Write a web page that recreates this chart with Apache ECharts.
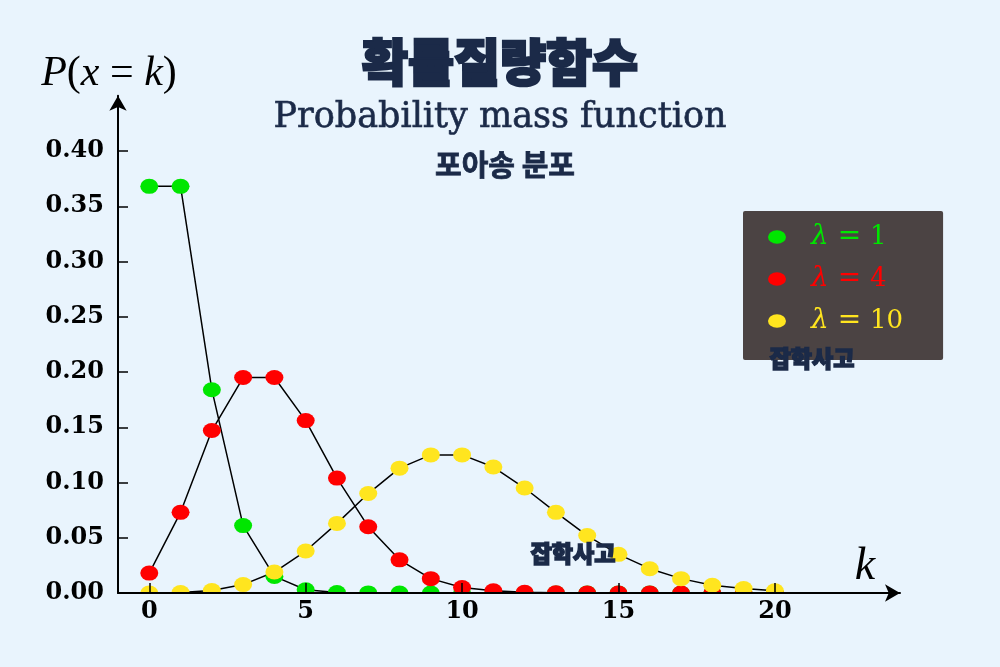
<!DOCTYPE html>
<html>
<head>
<meta charset="utf-8">
<script src="https://cdn.jsdelivr.net/npm/echarts@6/dist/echarts.min.js"></script>
<style>
html,body{margin:0;padding:0;background:#e9f4fd;}
#c{width:1000px;height:667px;}
</style>
</head>
<body>
<div id="c"></div>
<script>
// ---- data ----
const kValues = [0,1,2,3,4,5,6,7,8,9,10,11,12,13,14,15,16,17,18,19,20];
const lambda1 = [0.368,0.368,0.184,0.061,0.015,0.003,0.0005,0.0001,0,0,0,0,0,0,0,0,0,0,0,0,0];
const lambda4 = [0.018,0.073,0.147,0.195,0.195,0.156,0.104,0.060,0.030,0.013,0.005,0.002,0.0006,0.0002,0.00005,0,0,0,0,0,0];
const lambda10 = [0.00005,0.0005,0.0023,0.0076,0.019,0.038,0.063,0.090,0.113,0.125,0.125,0.114,0.095,0.073,0.052,0.035,0.022,0.013,0.007,0.004,0.002];
const xTickValues = [0,5,10,15,20];
const yTickValues = [0,0.05,0.10,0.15,0.20,0.25,0.30,0.35,0.40];
const seriesNames = ['λ = 1','λ = 4','λ = 10'];
const seriesValues = [lambda1, lambda4, lambda10];
const seriesColors = ['#00e600','#ff0000','#ffe51f'];

const BG = '#e9f4fd';
const NAVY = '#1b2a48';
const ELLIPSE = 'path://M0,6A8,6 0 1,1 16,6A8,6 0 1,1 0,6Z';

const chart = echarts.init(document.getElementById('c'), null, {renderer:'canvas'});

const series = seriesValues.map((vals, si) => ({
  name: seriesNames[si],
  type: 'line',
  data: kValues.map((k, i) => [k, vals[i]]),
  symbol: ELLIPSE,
  symbolSize: [18, 15],
  showAllSymbol: true,
  z: 2,
  lineStyle: {color: '#000', width: 1.5},
  itemStyle: {color: seriesColors[si]},
  emphasis: {disabled: true},
  animation: false
}));

const option = {
  backgroundColor: BG,
  animation: false,
  grid: {left: 118, right: 100, top: 95.75, bottom: 74, containLabel: false},
  xAxis: {
    type: 'value', min: -1, max: 24, z: 5,
    axisLine: {show: true, onZero: false, symbol: ['none','arrow'], symbolSize: [13, 15], lineStyle: {color: '#000', width: 2}},
    axisTick: {show: true, inside: true, length: 10, customValues: xTickValues, lineStyle: {color: '#000', width: 1.5}},
    axisLabel: {show: true, customValues: xTickValues, margin: 7, fontFamily: 'DejaVu Serif', fontWeight: 'bold', fontSize: 24, color: '#000'},
    splitLine: {show: false}
  },
  yAxis: {
    type: 'value', min: 0, max: 0.45, z: 5,
    axisLine: {show: true, onZero: false, symbol: ['none','arrow'], symbolSize: [13, 15], lineStyle: {color: '#000', width: 2}},
    axisTick: {show: true, inside: false, length: -10, customValues: yTickValues, lineStyle: {color: '#000', width: 1.5}},
    axisLabel: {show: true, customValues: yTickValues, margin: 14, formatter: v => v.toFixed(2), fontFamily: 'DejaVu Serif', fontWeight: 'bold', fontSize: 24, color: '#000'},
    splitLine: {show: false}
  },
  legend: {
    orient: 'vertical', left: 743, top: 211,
    padding: [12, 40, 25, 25],
    itemGap: 14, itemWidth: 18, itemHeight: 15,
    backgroundColor: '#4b4343', borderRadius: 2,
    icon: ELLIPSE,
    data: seriesNames.map((n, i) => ({name: n, textStyle: {color: seriesColors[i]}})),
    formatter: n => '{s|}{i|λ}{e| = }' + n.slice(4),
    textStyle: {
      fontFamily: 'DejaVu Serif', fontSize: 26, lineHeight: 28,
      rich: {
        s: {width: 20, lineHeight: 28},
        i: {fontStyle: 'italic', fontFamily: 'DejaVu Serif', fontSize: 28, lineHeight: 28},
        e: {fontFamily: 'DejaVu Serif', fontSize: 28, lineHeight: 28}
      }
    },
    selectedMode: false
  },
  series: series
};
chart.setOption(option);

const y0 = chart.convertToPixel({gridIndex: 0}, [0, 0])[1];
const yTop = chart.convertToPixel({gridIndex: 0}, [0, 0.45])[1];
const xLeft = chart.convertToPixel({gridIndex: 0}, [-1, 0])[0];
const xRight = chart.convertToPixel({gridIndex: 0}, [24, 0])[0];

chart.setOption({
  graphic: [
    // cover below the x axis so markers at zero are cut by the axis
    {type: 'rect', z: 3, silent: true, shape: {x: 0, y: y0, width: 1000, height: 667 - y0}, style: {fill: BG}},
    {type: 'text', z: 10, silent: true, style: {x: 500, y: 62, text: '확률질량함수', textAlign: 'center', textVerticalAlign: 'middle', fill: NAVY, stroke: NAVY, lineWidth: 2.5, font: '900 50px "Noto Sans CJK KR"'}},
    {type: 'text', z: 10, silent: true, style: {x: 500, y: 118, text: 'Probability mass function', textAlign: 'center', textVerticalAlign: 'middle', fill: NAVY, stroke: NAVY, lineWidth: 0.6, font: '35px "DejaVu Serif"'}},
    {type: 'text', z: 10, silent: true, style: {x: 505, y: 165, text: '포아송 분포', textAlign: 'center', textVerticalAlign: 'middle', fill: NAVY, stroke: NAVY, lineWidth: 0.8, font: 'bold 29px "Noto Sans CJK KR"'}},
    {type: 'text', z: 10, silent: true, style: {
      x: xLeft - 9, y: yTop - 22, textAlign: 'center', textVerticalAlign: 'middle',
      text: '{i|P}{u|(}{i|x}{u| = }{i|k}{u|)}', fill: '#000',
      rich: {
        i: {fontFamily: 'Liberation Serif', fontStyle: 'italic', fontSize: 42, fill: '#000'},
        u: {fontFamily: 'Liberation Serif', fontSize: 42, fill: '#000'}
      }
    }},
    {type: 'text', z: 10, silent: true, style: {x: xRight - 35, y: y0 - 26, text: 'k', textAlign: 'center', textVerticalAlign: 'middle', fill: '#000', font: 'italic 46px "Liberation Serif"'}},
    {type: 'text', z: 10, silent: true, style: {x: 812, y: 358, text: '잡학사고', textAlign: 'center', textVerticalAlign: 'middle', fill: NAVY, stroke: NAVY, lineWidth: 1.5, font: '900 23px "Noto Sans CJK KR"'}},
    {type: 'text', z: 10, silent: true, style: {x: 573, y: 553, text: '잡학사고', textAlign: 'center', textVerticalAlign: 'middle', fill: NAVY, stroke: NAVY, lineWidth: 1.5, font: '900 23px "Noto Sans CJK KR"'}}
  ]
});
</script>
</body>
</html>
